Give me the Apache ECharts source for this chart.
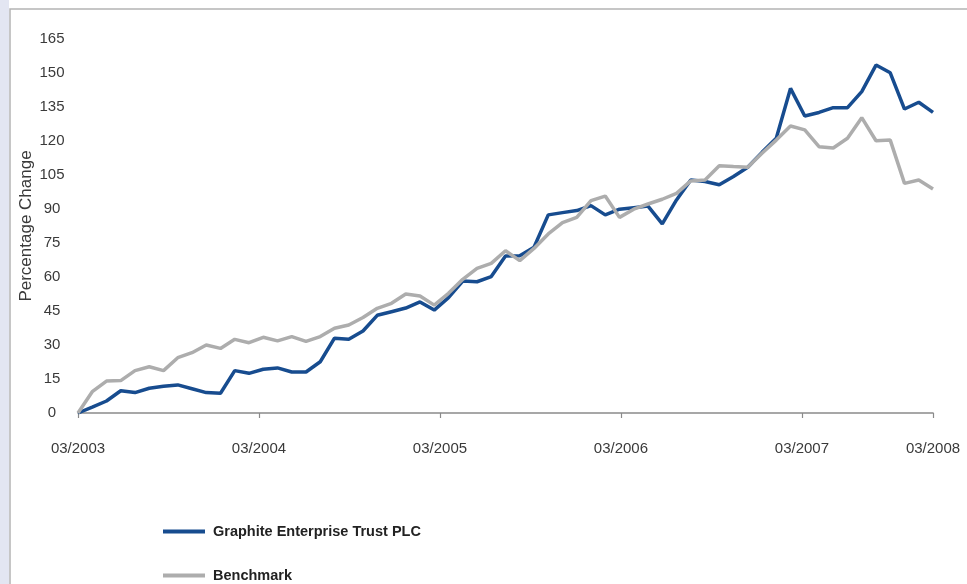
<!DOCTYPE html>
<html>
<head>
<meta charset="utf-8">
<script src="https://cdn.jsdelivr.net/npm/echarts@6/dist/echarts.min.js"></script>
<style>
html,body{margin:0;padding:0;background:#fff;}
#chart{width:967px;height:584px;}
</style>
</head>
<body>
<div id="chart"></div>
<script>
// Monthly observations, 03/2003 .. 03/2008 (index 0..60)
const graphite = [0, 2.6, 5.3, 9.8, 9.0, 10.9, 11.8, 12.4, 10.7, 9.0, 8.7,
  18.7, 17.5, 19.3, 19.9, 18.1, 18.1, 22.6, 33.0, 32.5, 36.2,
  43.1, 44.7, 46.3, 49.0, 45.4, 50.9, 58.2, 57.9, 60.2, 69.3,
  69.4, 73.1, 87.4, 88.4, 89.3, 91.5, 87.4, 89.9, 90.6, 91.3,
  83.4, 94.0, 102.8, 102.1, 100.7, 104.3, 108.4, 115.0, 121.2, 143.2,
  131.0, 132.6, 134.7, 134.7, 141.8, 153.5, 150.1, 134.1, 137.1, 132.6];
const benchmark = [0, 9.4, 14.1, 14.3, 18.7, 20.4, 18.7, 24.4, 26.6, 30.0, 28.5,
  32.5, 31.0, 33.4, 31.8, 33.7, 31.6, 33.7, 37.4, 38.8, 42.1,
  46.2, 48.4, 52.5, 51.6, 47.6, 52.8, 59.0, 63.8, 66.0, 71.6,
  67.2, 72.6, 79.0, 84.0, 86.3, 93.7, 95.7, 86.3, 89.9, 92.2,
  94.3, 96.9, 102.4, 102.8, 109.1, 108.7, 108.4, 114.6, 120.4, 126.6,
  124.9, 117.5, 116.9, 121.2, 130.3, 120.1, 120.4, 101.3, 102.8, 98.8];
const xTickLabels = ['03/2003', '03/2004', '03/2005', '03/2006', '03/2007', '03/2008'];
const yTicks = [0, 15, 30, 45, 60, 75, 90, 105, 120, 135, 150, 165];
const seriesNames = ['Graphite Enterprise Trust PLC', 'Benchmark'];

const xTickStep = 12.7;
const toPairs = arr => arr.map((v, i) => [i, v]);

const legendText = {fontFamily: 'Liberation Sans, Arial, sans-serif', fontWeight: 'bold', fontSize: 14.5, color: '#222', padding: [0, 0, 0, 3]};
const makeLegend = (name, top) => ({
  orient: 'vertical',
  left: 163,
  top: top,
  itemWidth: 42,
  itemHeight: 4,
  icon: 'rect',
  padding: 0,
  data: [name],
  textStyle: legendText
});

const chart = echarts.init(document.getElementById('chart'), null, {renderer: 'canvas'});
chart.setOption({
  animation: false,
  backgroundColor: '#ffffff',
  graphic: [
    {type: 'rect', z: -10, shape: {x: 0, y: 0, width: 9, height: 584}, style: {fill: '#e3e6f2'}},
    {type: 'rect', z: -10, shape: {x: 10, y: 9, width: 970, height: 600}, style: {fill: '#ffffff', stroke: '#b4b4b4', lineWidth: 1.5}}
  ],
  grid: {left: 78, right: 34, top: 39, bottom: 171, containLabel: false},
  legend: [makeLegend(seriesNames[0], 524), makeLegend(seriesNames[1], 568)],
  xAxis: {
    type: 'value',
    min: 0,
    max: graphite.length - 1,
    interval: xTickStep,
    splitLine: {show: false},
    axisLine: {show: true, lineStyle: {color: '#8a8a8a', width: 1.6}},
    axisTick: {show: true, inside: false, length: 5, lineStyle: {color: '#8a8a8a', width: 1.2}},
    axisLabel: {
      margin: 28,
      fontFamily: 'Liberation Sans, Arial, sans-serif',
      fontSize: 15,
      color: '#3a3a3a',
      showMinLabel: true,
      showMaxLabel: true,
      formatter: v => xTickLabels[Math.round(v / xTickStep)] || ''
    }
  },
  yAxis: {
    type: 'value',
    min: yTicks[0],
    max: yTicks[yTicks.length - 1],
    interval: 15,
    name: 'Percentage Change',
    nameLocation: 'middle',
    nameGap: 43,
    nameMoveOverlap: false,
    nameTextStyle: {fontFamily: 'Liberation Sans, Arial, sans-serif', fontSize: 17, color: '#3a3a3a'},
    splitLine: {show: false},
    axisLine: {show: false},
    axisTick: {show: false},
    axisLabel: {
      margin: 26,
      align: 'center',
      fontFamily: 'Liberation Sans, Arial, sans-serif',
      fontSize: 15,
      color: '#3a3a3a'
    }
  },
  series: [
    {
      name: seriesNames[0],
      type: 'line',
      data: toPairs(graphite),
      showSymbol: false,
      symbol: 'none',
      lineStyle: {color: '#174c8f', width: 3.5},
      itemStyle: {color: '#174c8f'}
    },
    {
      name: seriesNames[1],
      type: 'line',
      data: toPairs(benchmark),
      showSymbol: false,
      symbol: 'none',
      lineStyle: {color: '#adadad', width: 3.5},
      itemStyle: {color: '#adadad'}
    }
  ]
});
</script>
</body>
</html>
